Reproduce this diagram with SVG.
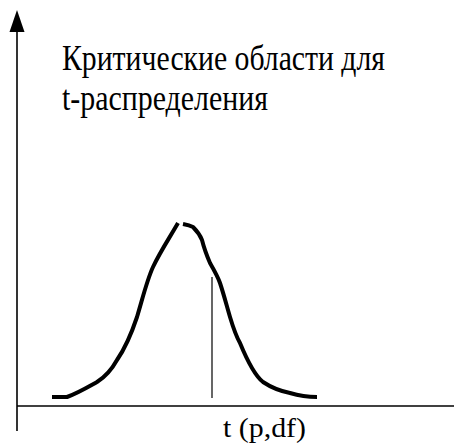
<svg xmlns="http://www.w3.org/2000/svg" width="454" height="443" viewBox="0 0 454 443">
<defs>
<style>
.axis{stroke:#000;stroke-width:1.6;fill:none}
.curve{stroke:#000;stroke-width:4;fill:none;stroke-linecap:butt;stroke-linejoin:round}
.thin{stroke:#000;stroke-width:1.2}
.lbl{font-family:'Liberation Serif','Times New Roman',serif;fill:#000}
</style>
</defs>
<g id="axes">
<line class="axis" x1="17" y1="30" x2="17" y2="431"/>
<polygon points="17,10 9.5,32 24.5,32" fill="#000"/>
<line class="axis" x1="17" y1="406" x2="454" y2="406"/>
</g>
<g id="curve">
<path class="curve" d="M52,397 L67,397 C78,393 88,387 97,382 C105,377 112,369 117,360 C126,347 132,332 137,317 C143,297 147,280 153,267 C160,252 170,237 178,223"/>
<path class="curve" d="M183,224 C188,225 191,226 193,227 C197,231 200,235 202,240 C204,248 207,256 210,263 C214,270 218,277 220,283 C224,295 227,307 230,317 C233,327 236,336 240,343 C247,360 254,375 263,382 C272,388 280,391 290,393 C300,396 308,397 317,397"/>
</g>
<g id="marker-line">
<line class="thin" x1="212" y1="277" x2="212" y2="398"/>
</g>
<g id="title">
<text class="lbl" x="62" y="70" font-size="35" textLength="323" lengthAdjust="spacingAndGlyphs">Критические области для</text>
<text class="lbl" x="62" y="110" font-size="35" textLength="206" lengthAdjust="spacingAndGlyphs">t-распределения</text>
</g>
<g id="xlabel">
<text class="lbl" x="223" y="437" font-size="28" textLength="83" lengthAdjust="spacingAndGlyphs">t (p,df)</text>
</g>
</svg>
